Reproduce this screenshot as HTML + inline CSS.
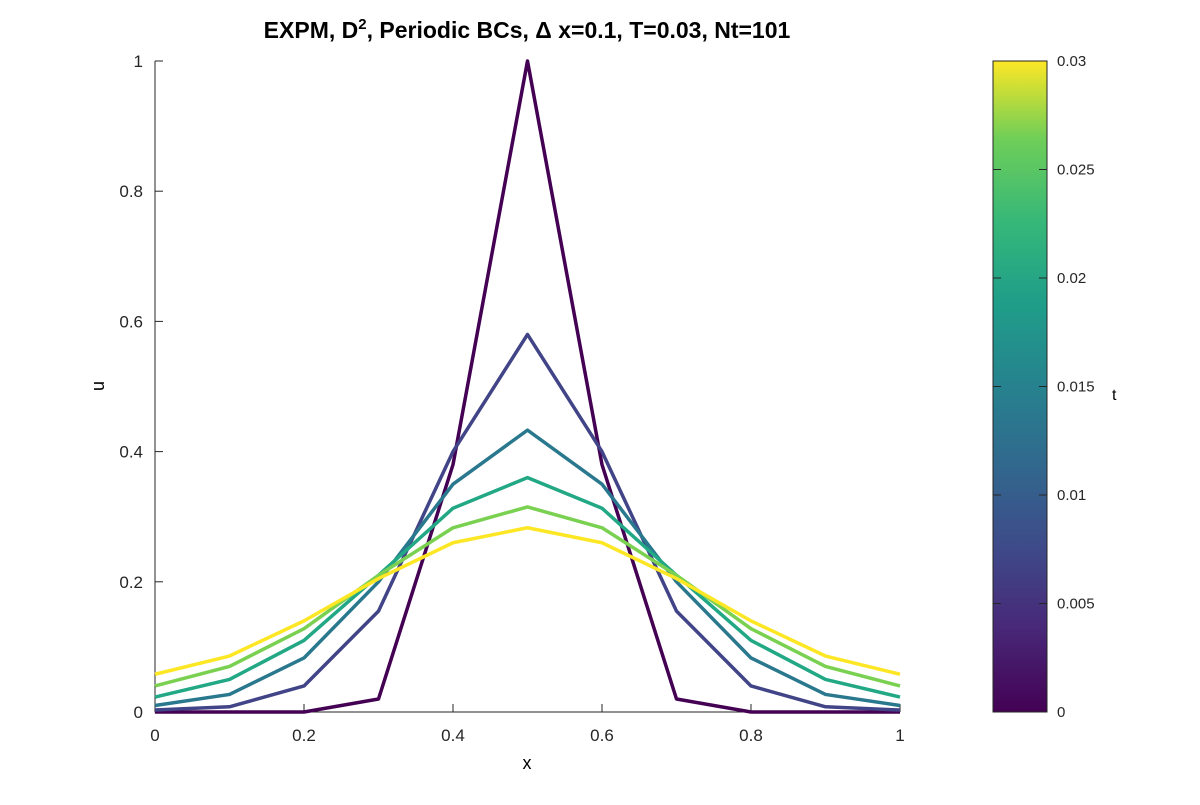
<!DOCTYPE html>
<html><head><meta charset="utf-8"><style>
body{margin:0;background:#fff;font-family:"Liberation Sans",sans-serif}
text{font-family:"Liberation Sans",sans-serif}
</style></head><body>
<svg id="c" width="1200" height="800" xmlns="http://www.w3.org/2000/svg">
<defs><linearGradient id="vir" x1="0" y1="1" x2="0" y2="0">
<stop offset="0" stop-color="#440154"/><stop offset="0.13" stop-color="#482878"/><stop offset="0.25" stop-color="#3e4a89"/><stop offset="0.38" stop-color="#31688e"/><stop offset="0.5" stop-color="#26828e"/><stop offset="0.63" stop-color="#1f9e89"/><stop offset="0.75" stop-color="#35b779"/><stop offset="0.88" stop-color="#6ece58"/><stop offset="1" stop-color="#fde725"/>
</linearGradient></defs>
<text x="527" y="38" text-anchor="middle" font-size="23" font-weight="bold">EXPM, D<tspan dy="-9" font-size="15">2</tspan><tspan dy="9">, Periodic BCs, Δ x=0.1, T=0.03, Nt=101</tspan></text>
<g id="plot"></g>
<text x="527" y="769" text-anchor="middle" font-size="18">x</text>
<text x="104" y="386" text-anchor="middle" font-size="18" transform="rotate(-90 104 386)">u</text>
<rect x="993" y="61" width="54" height="651" fill="url(#vir)" stroke="#262626" stroke-width="1"/>
<g id="cb"></g>
<text x="1112" y="400" font-size="16">t</text>
</svg>
<script>
const xs=[0,0.1,0.2,0.3,0.4,0.5,0.6,0.7,0.8,0.9,1];
const u0=[0,0,0,0.02,0.38,1,0.38,0.02,0,0,0];
const u1=[0.003,0.008,0.04,0.155,0.40,0.58,0.40,0.155,0.04,0.008,0.003];
const u2=[0.01,0.027,0.083,0.20,0.35,0.433,0.35,0.20,0.083,0.027,0.01];
const u3=[0.023,0.05,0.11,0.21,0.313,0.36,0.313,0.21,0.11,0.05,0.023];
const u4=[0.04,0.07,0.128,0.21,0.283,0.315,0.283,0.21,0.128,0.07,0.04];
const u5=[0.058,0.086,0.14,0.205,0.26,0.283,0.26,0.205,0.14,0.086,0.058];
const series=[u0,u1,u2,u3,u4,u5];
const colors=["#440154","#414487","#2a788e","#22a884","#7ad151","#fde725"];
const xTicks=[0,0.2,0.4,0.6,0.8,1];
const yTicks=[0,0.2,0.4,0.6,0.8,1];
const cbTicks=[0,0.005,0.01,0.015,0.02,0.025,0.03];
const X=v=>155+v*745, Y=v=>712-v*651, CY=v=>712-v/0.03*651;
const NS="http://www.w3.org/2000/svg";
const p=document.getElementById('plot');
function mk(t,a,par){const e=document.createElementNS(NS,t);for(const k in a)e.setAttribute(k,a[k]);(par||p).appendChild(e);return e;}
let ax=mk('path',{d:`M155,61V712H900`,fill:'none',stroke:'#262626','stroke-width':1});


xTicks.forEach(v=>{const l=mk('line',{x1:X(v),x2:X(v),y1:712,y2:704,stroke:'#262626'});

const t=mk('text',{x:X(v),y:741,'text-anchor':'middle','font-size':17,fill:'#262626'});t.textContent=v;
});
yTicks.forEach(v=>{const l=mk('line',{x1:155,x2:163,y1:Y(v),y2:Y(v),stroke:'#262626'});

const t=mk('text',{x:143,y:Y(v)+6,'text-anchor':'end','font-size':17,fill:'#262626'});t.textContent=v;
});
series.forEach((s,i)=>{const l=mk('polyline',{points:s.map((v,j)=>X(xs[j])+','+Y(v)).join(' '),fill:'none',stroke:colors[i],'stroke-width':3.5,'stroke-linejoin':'round'});
});
const cb=document.getElementById('cb');
cbTicks.forEach(v=>{const l=mk('line',{x1:1039,x2:1047,y1:CY(v),y2:CY(v),stroke:'#262626'},cb);

const l2=mk('line',{x1:993,x2:1001,y1:CY(v),y2:CY(v),stroke:'#262626'},cb);

const t=mk('text',{x:1057,y:CY(v)+5,'font-size':15,fill:'#262626'},cb);t.textContent=v;
});
</script>
</body></html>
